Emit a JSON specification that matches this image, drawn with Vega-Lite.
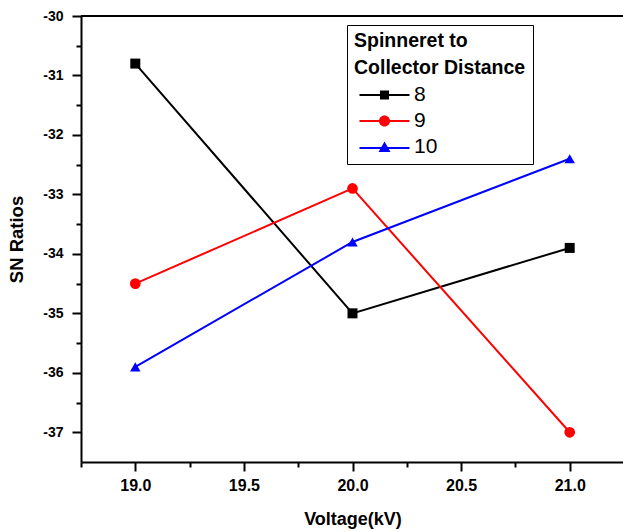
{
  "$schema": "https://vega.github.io/schema/vega-lite/v6.json",
  "width": 543,
  "height": 446,
  "autosize": {"type": "none"},
  "padding": {"left": 81, "top": 16, "right": 0, "bottom": 70},
  "background": "white",
  "config": {
    "view": {"stroke": null},
    "font": "Liberation Sans",
    "axis": {
      "domainColor": "black",
      "domainWidth": 2,
      "tickColor": "black",
      "tickWidth": 2,
      "tickSize": 9,
      "labelColor": "black",
      "labelFont": "Liberation Sans",
      "labelFontWeight": "bold",
      "titleFont": "Liberation Sans",
      "titleFontWeight": "bold",
      "titleColor": "black",
      "grid": false,
      "labelBound": false,
      "labelOverlap": false
    }
  },
  "data": {
    "values": [
      {"voltage": 19.0, "sn": -30.8, "distance": "8"},
      {"voltage": 20.0, "sn": -35.0, "distance": "8"},
      {"voltage": 21.0, "sn": -33.9, "distance": "8"},
      {"voltage": 19.0, "sn": -34.5, "distance": "9"},
      {"voltage": 20.0, "sn": -32.9, "distance": "9"},
      {"voltage": 21.0, "sn": -37.0, "distance": "9"},
      {"voltage": 19.0, "sn": -35.9, "distance": "10"},
      {"voltage": 20.0, "sn": -33.8, "distance": "10"},
      {"voltage": 21.0, "sn": -32.4, "distance": "10"}
    ]
  },
  "encoding": {
    "x": {
      "field": "voltage",
      "type": "quantitative",
      "scale": {"domain": [18.75, 21.25], "nice": false, "zero": false},
      "axis": {
        "title": "Voltage(kV)",
        "values": [18.75, 19.0, 19.25, 19.5, 19.75, 20.0, 20.25, 20.5, 20.75, 21.0, 21.25],
        "tickCount": 60,
        "labelExpr": "(datum.value * 2) % 1 == 0 ? format(datum.value, '.1f') : ''",
        "tickDash": {"condition": {"test": "(datum.value * 2) % 1 != 0", "value": [5, 20]}, "value": []},
        "labelFontSize": 16,
        "titleFontSize": 18,
        "labelPadding": 6,
        "titlePadding": 17
      }
    },
    "y": {
      "field": "sn",
      "type": "quantitative",
      "scale": {"domain": [-37.5, -30], "nice": false, "zero": false},
      "axis": {
        "title": "SN Ratios",
        "values": [-37, -36.5, -36, -35.5, -35, -34.5, -34, -33.5, -33, -32.5, -32, -31.5, -31, -30.5, -30],
        "tickCount": 60,
        "labelExpr": "datum.value % 1 == 0 ? toString(datum.value) : ''",
        "tickDash": {"condition": {"test": "datum.value % 1 != 0", "value": [5, 20]}, "value": []},
        "labelFontSize": 14,
        "titleFontSize": 18.5,
        "labelPadding": 9,
        "titlePadding": 16
      }
    },
    "color": {
      "field": "distance",
      "type": "nominal",
      "sort": ["8", "9", "10"],
      "scale": {"domain": ["8", "9", "10"], "range": ["#000000", "#ff0000", "#0000ff"]},
      "legend": {
        "title": ["Spinneret to", "Collector Distance"],
        "orient": "none",
        "legendX": 266,
        "legendY": 9,
        "titleFontSize": 19.5,
        "titleFontWeight": "bold",
        "titleColor": "black",
        "titleLineHeight": 27,
        "titlePadding": 6,
        "labelFontSize": 21,
        "labelColor": "black",
        "labelFont": "Liberation Sans",
        "titleFont": "Liberation Sans",
        "strokeColor": "black",
        "fillColor": "white",
        "padding": 7,
        "rowPadding": 4,
        "symbolSize": 100,
        "symbolStrokeWidth": 0,
        "labelOffset": 39,
        "encode": {
          "symbols": {
            "update": {
              "shape": {"signal": "datum.value == '8' ? 'M-1,-0.2H9V0.2H-1Z M3.1,-0.9H4.9V0.9H3.1Z' : datum.value == '9' ? 'M-1,-0.2H9V0.2H-1Z M2.9,0A1.1,1.1 0 1,1 5.1,0A1.1,1.1 0 1,1 2.9,0Z' : 'M-1,0H9V0.4H-1Z M4,-1.1L5.2,1H2.8Z'"},
              "fill": {"scale": "color", "field": "value"},
              "fillOpacity": {"value": 1},
              "opacity": {"value": 1},
              "stroke": {"value": "transparent"},
              "strokeWidth": {"value": 0}
            }
          }
        }
      }
    }
  },
  "layer": [
    {
      "mark": {"type": "rule", "color": "black", "strokeWidth": 2},
      "encoding": {"y": {"datum": -30}, "x": null, "color": null}
    },
    {
      "mark": {"type": "line", "strokeWidth": 2},
      "encoding": {}
    },
    {
      "transform": [{"filter": "datum.distance == '8'"}],
      "mark": {"type": "point", "filled": true, "opacity": 1, "size": 100, "shape": "square"},
      "encoding": {}
    },
    {
      "transform": [{"filter": "datum.distance == '9'"}],
      "mark": {"type": "point", "filled": true, "opacity": 1, "size": 115, "shape": "circle"},
      "encoding": {}
    },
    {
      "transform": [{"filter": "datum.distance == '10'"}],
      "mark": {"type": "point", "filled": true, "opacity": 1, "size": 110, "shape": "triangle-up"},
      "encoding": {}
    }
  ]
}
